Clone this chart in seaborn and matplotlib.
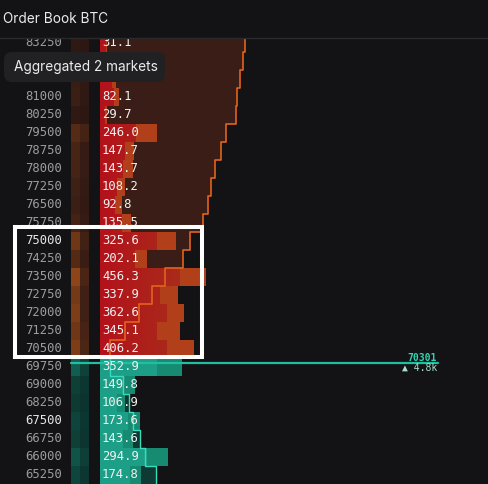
import numpy as np
import pandas as pd
import matplotlib.pyplot as plt
from matplotlib.colors import LinearSegmentedColormap
from matplotlib.patches import FancyBboxPatch, Rectangle, PathPatch
from matplotlib.path import Path
import seaborn as sns

# order book levels (bucket lower edge), total size and the part from market A
ask_prices = [83250, 82500, 81750, 81000, 80250, 79500, 78750, 78000, 77250,
              76500, 75750, 75000, 74250, 73500, 72750, 72000, 71250, 70500]
ask_sizes = [31.1, 60.5, 71.0, 82.1, 29.7, 246.0, 147.7, 143.7, 108.2,
             92.8, 135.5, 325.6, 202.1, 456.3, 337.9, 362.6, 345.1, 406.2]
ask_market_a = [25.0, 45.0, 50.0, 60.0, 22.0, 155.0, 107.0, 100.0, 75.0,
                65.0, 95.0, 246.0, 150.0, 345.0, 259.0, 289.0, 246.0, 289.0]
bid_prices = [69750, 69000, 68250, 67500, 66750, 66000, 65250]
bid_sizes = [352.9, 149.8, 106.9, 173.6, 143.6, 294.9, 174.8]
bid_market_a = [246.0, 100.0, 75.0, 120.0, 100.0, 203.0, 130.0]
hidden_levels = [82500, 81750]   # labels covered by the badge
tick = 750
mid_price = 70301
mid_change = "▲ 4.8k"
title = "Order Book BTC"
badge = "Aggregated 2 markets"

W, H = 489, 484
BG = '#131315'
HEADER = 38
ROW_PX = 18
BAR_PX, BAR_X0 = 0.232, 100      # px per size unit, px of zero
DEPTH_PX, DEPTH_X0 = 0.038, 110

sns.set_theme(style='dark')
plt.rcParams['font.family'] = ['Inter', 'DejaVu Sans']
MONO = 'DejaVu Sans Mono'

fig = plt.figure(figsize=(W / 100, H / 100), dpi=100, facecolor=BG)
rect = [0, 0, 1, (H - HEADER) / H]
y_lo = bid_prices[-1]
y_hi = y_lo + (H - HEADER) / ROW_PX * tick

asks = pd.DataFrame({'price': ask_prices, 'size': ask_sizes, 'a': ask_market_a})
bids = pd.DataFrame({'price': bid_prices, 'size': bid_sizes, 'a': bid_market_a})
for df in (asks, bids):
    df['mid'] = df['price'] + tick / 2

# ---- heat columns (market A / market B) ----
ax_heat = fig.add_axes([71 / W, 0, 18 / W, (H - HEADER) / H])
n_ask, n_bid = len(asks), len(bids)
heat = np.vstack([np.column_stack([asks['a'], asks['size'] - asks['a']]),
                  np.column_stack([bids['a'], bids['size'] - bids['a']])])
is_ask = np.zeros_like(heat, dtype=bool)
is_ask[:n_ask] = True
vmax = heat.max()
sns.heatmap(heat, mask=~is_ask, ax=ax_heat, cbar=False, vmin=0, vmax=vmax,
            cmap=LinearSegmentedColormap.from_list('ah', ['#2a1613', '#8c4418']),
            xticklabels=False, yticklabels=False)
sns.heatmap(heat, mask=is_ask, ax=ax_heat, cbar=False, vmin=0, vmax=vmax,
            cmap=LinearSegmentedColormap.from_list('bh', ['#0b2d28', '#14705f']),
            xticklabels=False, yticklabels=False)
ax_heat.set_ylim(n_ask + n_bid, (ask_prices[0] + tick - y_hi) / tick)
ax_heat.axis('off')

# ---- depth fill (bottom layer) ----
ax_depth = fig.add_axes(rect)
ax_depth.set_facecolor('none')
ax_bar = ax_depth.twiny()
ax_line = ax_depth.twiny()
dlim = (-DEPTH_X0 / DEPTH_PX, (W - DEPTH_X0) / DEPTH_PX)
fill_base = (BAR_X0 - DEPTH_X0) / DEPTH_PX


def steps(df, up):
    # cumulative size of the levels between the mid price and each level
    cum = np.concatenate([[0], np.cumsum(df['size'].values)[:-1]])
    lo = df['price'].values.astype(float)
    edges = [lo, lo + tick] if up else [lo + tick, lo]
    return np.column_stack(edges).ravel(), np.repeat(cum, 2)


ay, axx = steps(asks.iloc[::-1], True)
by, bx = steps(bids, False)
ax_depth.fill_betweenx(ay, fill_base, axx, color='#3a1d16', lw=0)
ax_depth.fill_betweenx(by, fill_base, bx, color='#0f3a33', lw=0)


# ---- size bars ----
def bars(df, col, color):
    n0 = len(ax_bar.patches)
    sns.barplot(data=df, x=col, y='mid', orient='y', native_scale=True, width=1,
                color=color, saturation=1, errorbar=None, linewidth=0, ax=ax_bar)
    return ax_bar.patches[n0:]


bars(asks, 'size', '#b03f1a')
red_a = bars(asks, 'a', '#ad161b')
bars(bids, 'size', '#178a72')
bars(bids, 'a', '#1c9f86')

# red -> orange gradient inside market A ask bars
grad = np.linspace(0, 1, 256).reshape(1, -1)
im = ax_bar.imshow(grad, extent=(0, max(ask_sizes), y_lo, y_hi), aspect='auto',
                   origin='lower', zorder=3,
                   cmap=LinearSegmentedColormap.from_list('g', ['#b3121b', '#a5331a']))
clip = Path.make_compound_path(*[p.get_path().transformed(p.get_patch_transform())
                                 for p in red_a])
im.set_clip_path(PathPatch(clip, transform=ax_bar.transData))

# ---- depth staircase lines + mid price ----
ax_line.plot(axx, ay, color='#e2631d', lw=1.2)
ax_line.plot(bx, by, color='#36dcbc', lw=1.0)
ax_line.axhline(mid_price, xmin=71 / W, xmax=438 / W, color='#1fbfa0', lw=1.6)

ytf = ax_line.get_yaxis_transform()
for df in (asks, bids):
    for p, s in zip(df['price'], df['size']):
        if p in hidden_levels:
            continue
        c = '#e6e6e6' if p % 7500 == 0 else '#9c9c9c'
        ax_line.text(62 / W, p + tick / 2, f'{p}', transform=ytf, ha='right',
                     va='center', color=c, fontsize=8.8, family=MONO, clip_on=True)
        ax_line.text(102 / W, p + tick / 2, f'{s:.1f}', transform=ytf, ha='left',
                     va='center', color='#f2f2f2', fontsize=8.8, family=MONO,
                     clip_on=True, zorder=5)
ax_line.text(437 / W, mid_price, f'{mid_price}', transform=ytf, ha='right',
             va='bottom', color='#2fd4b3', fontsize=7, family=MONO,
             fontweight='bold')
ax_line.text(437 / W, mid_price, mid_change, transform=ytf, ha='right', va='top',
             color='#a8dccf', fontsize=7, family=[MONO, 'DejaVu Sans'])

for a, lim in ((ax_depth, dlim), (ax_line, dlim),
               (ax_bar, (-BAR_X0 / BAR_PX, (W - BAR_X0) / BAR_PX))):
    a.set_xlim(*lim)
    a.set_ylim(y_lo, y_hi)
    a.axis('off')

# ---- header, badge and highlight box (pixel overlay) ----
deco = fig.add_axes([0, 0, 1, 1])
deco.set_xlim(0, W)
deco.set_ylim(H, 0)
deco.axis('off')
deco.axhline(HEADER, color='#2a2a2d', lw=1)
deco.text(3, 19, title, color='#ececec', fontsize=9.8, va='center', ha='left')
deco.add_patch(FancyBboxPatch((4, 52), 161, 30, boxstyle='round,pad=0,rounding_size=8',
                              fc='#212124', ec='none'))
deco.text(14, 67, badge, color='#ececec', fontsize=9.8, va='center', ha='left')
deco.add_patch(Rectangle((14.5, 227), 187.5, 130, fill=False, ec='white', lw=2.9))

fig.savefig('out.png', dpi=100, facecolor=BG)
